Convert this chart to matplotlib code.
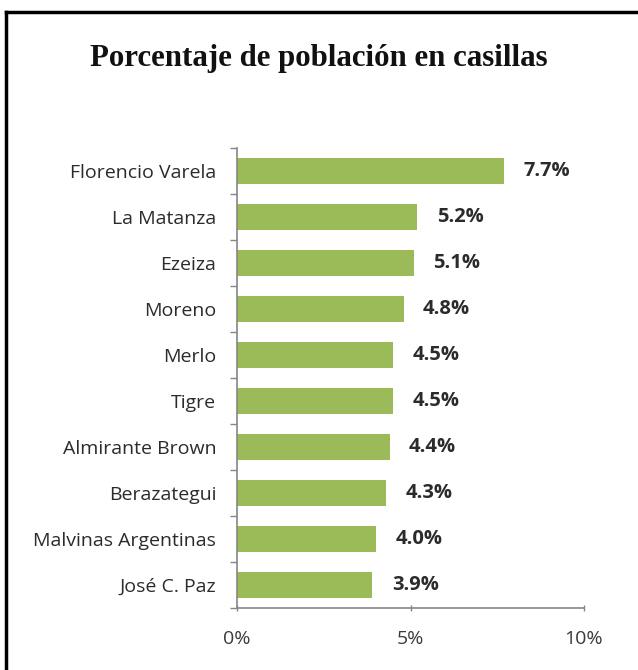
import matplotlib
matplotlib.use("Agg")
import matplotlib.pyplot as plt
from matplotlib.lines import Line2D

municipios = ["Florencio Varela", "La Matanza", "Ezeiza", "Moreno", "Merlo",
              "Tigre", "Almirante Brown", "Berazategui", "Malvinas Argentinas",
              "José C. Paz"]
porcentajes = [7.7, 5.2, 5.1, 4.8, 4.5, 4.5, 4.4, 4.3, 4.0, 3.9]
ticks_x = [0, 5, 10]
ticks_x_labels = ["0%", "5%", "10%"]

fig = plt.figure(figsize=(6.38, 6.70), dpi=100)
ax = fig.add_axes([237 / 638, 1 - 608 / 670, 347 / 638, 460 / 670])

pos = list(range(len(municipios)))
ax.barh(pos, porcentajes, height=0.57, color="#9BBB59")
ax.set_ylim(len(municipios) - 0.5, -0.5)
ax.set_xlim(0, 10)

ax.set_yticks([p + 0.5 for p in [-1] + pos], minor=False)
ax.set_yticklabels([])
ax.set_yticks(pos, minor=True)
ax.set_yticklabels(municipios, minor=True, fontfamily="Open Sans", fontsize=14, color="#2b2b2b")
ax.tick_params(axis="y", which="major", length=5, width=1, color="#868686", direction="out")
ax.tick_params(axis="y", which="minor", length=0, pad=15)

ax.set_xticks(ticks_x)
ax.set_xticklabels(ticks_x_labels, fontfamily="Open Sans", fontsize=14, color="#3a3a3a")
ax.tick_params(axis="x", length=5, width=1, color="#868686", direction="inout", pad=13)

for s in ["top", "right"]:
    ax.spines[s].set_visible(False)
for s in ["left", "bottom"]:
    ax.spines[s].set_color("#868686")
    ax.spines[s].set_linewidth(1.2)

for p, v in zip(pos, porcentajes):
    ax.text(v + 0.56, p, f"{v:.1f}%", va="center", ha="left", fontfamily="Open Sans",
            fontweight="bold", fontsize=14.5, color="#2b2b2b")

fig.text(0.5, 0.913, "Porcentaje de población en casillas", ha="center", va="center",
         fontfamily="Liberation Serif", fontweight="bold", fontsize=22.2, color="#111111")

fig.add_artist(Line2D([6 / 638, 6 / 638], [0, 1 - 12 / 670], transform=fig.transFigure,
                      color="black", linewidth=2.5))
fig.add_artist(Line2D([6 / 638, 1], [1 - 12 / 670, 1 - 12 / 670], transform=fig.transFigure,
                      color="black", linewidth=2.5))

fig.savefig("out.png", dpi=100)
